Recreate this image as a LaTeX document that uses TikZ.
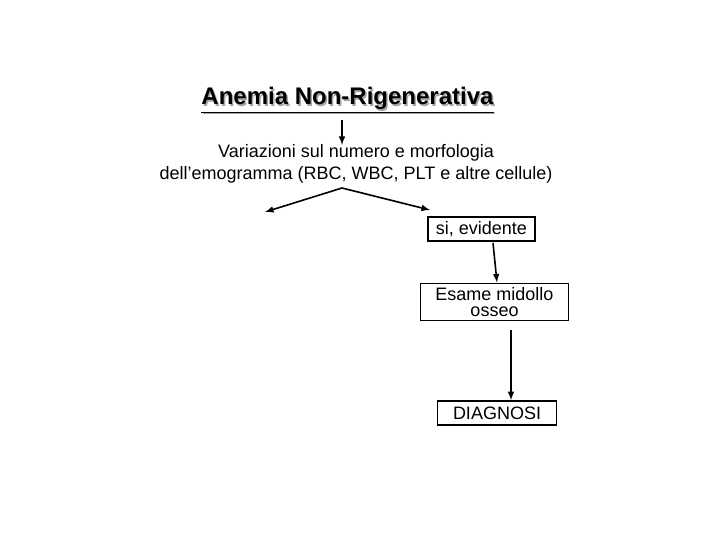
\documentclass[tikz,border=0pt]{standalone}
\usepackage{fontspec}
\setmainfont{Liberation Sans}
\begin{document}
\begin{tikzpicture}[x=0.75pt,y=-0.75pt,
  box/.style={draw,line width=1.2pt,minimum height=18pt,font=\fontsize{13.5}{12}\selectfont,align=center,inner sep=1pt},
  arr/.style={line width=1.2pt,-latex}]
\useasboundingbox (0,0) rectangle (720,540);
\node[text=gray!70,font=\fontsize{18}{19}\selectfont\bfseries] at (349,101.5) {\underline{Anemia Non-Rigenerativa}};
\node (t) [font=\fontsize{18}{19}\selectfont\bfseries] at (347.5,100) {\underline{Anemia Non-Rigenerativa}};
\node (v) [font=\fontsize{13.5}{17}\selectfont,align=center] at (356,164) {Variazioni sul numero e morfologia\\dell’emogramma (RBC, WBC, PLT e altre cellule)};
\coordinate (a1) at (342,120);
\coordinate (a2) at (342,145);
\draw[arr] (a1) -- (a2);
\coordinate (s) at (342,188);
\coordinate (l) at (265,212);
\coordinate (r) at (430,210);
\draw[arr] (s) -- (l);
\draw[arr] (s) -- (r);
\node (si) [box,minimum width=80pt] at (481.5,229) {si, evidente};
\node (es) [box,minimum width=111pt,minimum height=28pt] at (494.5,302) {Esame midollo\\osseo};
\node (dg) [box,minimum width=89pt] at (497,413) {DIAGNOSI};
\coordinate (b1) at (493,243);
\draw[arr] (b1) -- (es.north -| 497,0);
\coordinate (c1) at (511,330);
\draw[arr] (c1) -- (dg.north -| 511,0);
\end{tikzpicture}
\end{document}
